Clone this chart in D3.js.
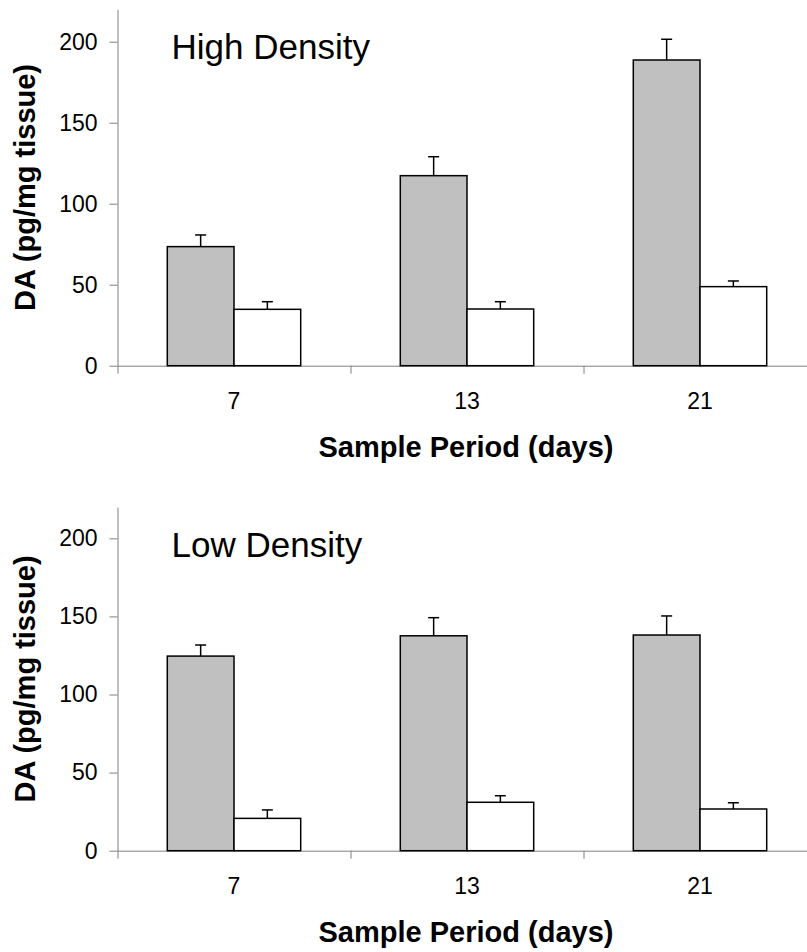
<!DOCTYPE html>
<html>
<head>
<meta charset="utf-8">
<script src="https://cdn.jsdelivr.net/npm/d3@7"></script>
<style>
  body { margin: 0; background: #fff; }
  svg { display: block; font-family: "Liberation Sans", Arial, sans-serif; }
</style>
</head>
<body>
<div id="chart"></div>
<script>
// 数据
const categories = ["7", "13", "21"];
const yTicks = [0, 50, 100, 150, 200];

const highGray = [73.5, 117.3, 188.7];
const highGrayErr = [7.2, 11.7, 12.8];
const highWhite = [34.8, 35.0, 48.8];
const highWhiteErr = [4.7, 4.5, 3.5];

const lowGray = [124.6, 137.6, 138.1];
const lowGrayErr = [7.1, 11.6, 12.2];
const lowWhite = [20.7, 31.0, 26.7];
const lowWhiteErr = [5.4, 4.2, 4.0];

const width = 807, height = 952;
const axisColor = "#808080";

const svg = d3.select("#chart").append("svg")
    .attr("width", width)
    .attr("height", height);

// 每个面板的布局
const panels = [
    { title: "High Density", top: 9.3, bottom: 365.7, gray: highGray, grayErr: highGrayErr, white: highWhite, whiteErr: highWhiteErr },
    { title: "Low Density", top: 507.1, bottom: 850.7, gray: lowGray, grayErr: lowGrayErr, white: lowWhite, whiteErr: lowWhiteErr }
];

const left = 117.5, catWidth = 233;

const x = d3.scaleBand()
    .domain(categories)
    .range([left, left + catWidth * categories.length])
    .padding(0);

// 组内两根柱子
const xs = d3.scaleBand()
    .domain(["gray", "white"])
    .range([(catWidth - 133.4) / 2, (catWidth + 133.4) / 2]);

const drawPanel = (p) => {
    const g = svg.append("g");
    const y = d3.scaleLinear().domain([0, 220]).range([p.bottom, p.top]);

    // y 轴
    const yAxis = g.append("g")
        .attr("transform", `translate(${left},0)`)
        .call(d3.axisLeft(y).tickValues(yTicks).tickSize(8).tickSizeOuter(0).tickPadding(12));
    yAxis.select(".domain").attr("stroke", axisColor);
    yAxis.selectAll(".tick line").attr("stroke", axisColor);
    yAxis.selectAll("text")
        .style("font-size", "23px")
        .style("font-family", "'Liberation Sans', Arial, sans-serif")
        .attr("fill", "#000");

    // x 轴（分隔刻度）
    const xb = d3.scaleLinear().domain([0, categories.length]).range(x.range());
    const xAxis = g.append("g")
        .attr("transform", `translate(0,${p.bottom})`)
        .call(d3.axisBottom(xb).tickValues(d3.range(categories.length + 1)).tickFormat("").tickSize(8).tickSizeOuter(0));
    xAxis.select(".domain").attr("stroke", axisColor);
    xAxis.selectAll(".tick line").attr("stroke", axisColor);

    // x 轴标签
    const xLab = g.append("g")
        .attr("transform", `translate(0,${p.bottom})`)
        .call(d3.axisBottom(x).tickSize(0).tickPadding(27));
    xLab.select(".domain").remove();
    xLab.selectAll("text")
        .style("font-size", "23px")
        .style("font-family", "'Liberation Sans', Arial, sans-serif")
        .attr("fill", "#000");

    // 柱子
    const series = [
        { key: "gray", vals: p.gray, errs: p.grayErr, fill: "#c0c0c0" },
        { key: "white", vals: p.white, errs: p.whiteErr, fill: "#ffffff" }
    ];

    series.forEach(s => {
        categories.forEach((c, i) => {
            const bx = x(c) + xs(s.key);
            const bw = xs.bandwidth();
            const cx = bx + bw / 2;
            // 误差线
            g.append("line")
                .attr("x1", cx).attr("x2", cx)
                .attr("y1", y(s.vals[i])).attr("y2", y(s.vals[i] + s.errs[i]))
                .attr("stroke", "#000").attr("stroke-width", 1.5);
            g.append("line")
                .attr("x1", cx - 5.5).attr("x2", cx + 5.5)
                .attr("y1", y(s.vals[i] + s.errs[i])).attr("y2", y(s.vals[i] + s.errs[i]))
                .attr("stroke", "#000").attr("stroke-width", 1.5);
            g.append("rect")
                .attr("x", bx)
                .attr("y", y(s.vals[i]))
                .attr("width", bw)
                .attr("height", y(0) - y(s.vals[i]))
                .attr("fill", s.fill)
                .attr("stroke", "#000")
                .attr("stroke-width", 1.5);
        });
    });

    // 面板标题
    g.append("text")
        .attr("x", 171.5)
        .attr("y", p.top + 50)
        .style("font-size", "35px")
        .text(p.title);

    // y 轴标题
    g.append("text")
        .attr("transform", `translate(35,${(p.top + p.bottom) / 2}) rotate(-90)`)
        .attr("text-anchor", "middle")
        .style("font-size", "29px")
        .style("font-weight", "bold")
        .text("DA (pg/mg tissue)");

    // x 轴标题
    g.append("text")
        .attr("x", 466)
        .attr("y", p.bottom + 91)
        .attr("text-anchor", "middle")
        .style("font-size", "29px")
        .style("font-weight", "bold")
        .text("Sample Period (days)");
};

panels.forEach(drawPanel);
</script>
</body>
</html>
